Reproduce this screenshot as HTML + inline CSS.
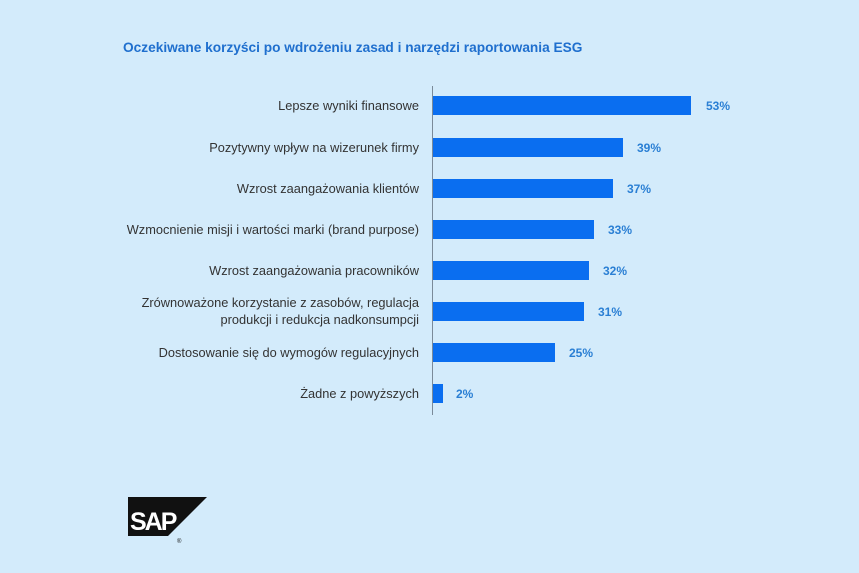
<!DOCTYPE html>
<html><head><meta charset="utf-8"><style>
html,body{margin:0;padding:0}
body{width:859px;height:573px;background:#d3ebfb;overflow:hidden;position:relative}
</style></head><body>
<svg width="859" height="573" viewBox="0 0 859 573" xmlns="http://www.w3.org/2000/svg" style="position:absolute;left:0;top:0">
<rect width="859" height="573" fill="#d3ebfb"/>
<text x="123" y="52" font-family="Liberation Sans, sans-serif" font-size="13.7" font-weight="bold" fill="#1f6fce">Oczekiwane korzyści po wdrożeniu zasad i narzędzi raportowania ESG</text>
<line x1="432.5" y1="86" x2="432.5" y2="415" stroke="#7a8a99" stroke-width="1"/>
<g fill="#0a6ef0">
<rect x="433" y="96" width="258" height="19"/>
<rect x="433" y="138" width="190" height="19"/>
<rect x="433" y="179" width="180" height="19"/>
<rect x="433" y="220" width="161" height="19"/>
<rect x="433" y="261" width="156" height="19"/>
<rect x="433" y="302" width="151" height="19"/>
<rect x="433" y="343" width="122" height="19"/>
<rect x="433" y="384" width="10" height="19"/>
</g>
<g font-family="Liberation Sans, sans-serif" font-size="12.8" fill="#333" text-anchor="end">
<text x="419" y="110">Lepsze wyniki finansowe</text>
<text x="419" y="152">Pozytywny wpływ na wizerunek firmy</text>
<text x="419" y="193">Wzrost zaangażowania klientów</text>
<text x="419" y="234">Wzmocnienie misji i wartości marki (brand purpose)</text>
<text x="419" y="275">Wzrost zaangażowania pracowników</text>
<text x="419" y="307">Zrównoważone korzystanie z zasobów, regulacja</text>
<text x="419" y="324">produkcji i redukcja nadkonsumpcji</text>
<text x="419" y="357">Dostosowanie się do wymogów regulacyjnych</text>
<text x="419" y="398">Żadne z powyższych</text>
</g>
<g font-family="Liberation Sans, sans-serif" font-size="12" font-weight="bold" fill="#2a7fd4">
<text x="706" y="110">53%</text>
<text x="637" y="152">39%</text>
<text x="627" y="193">37%</text>
<text x="608" y="234">33%</text>
<text x="603" y="275">32%</text>
<text x="598" y="316">31%</text>
<text x="569" y="357">25%</text>
<text x="456" y="398">2%</text>
</g>
<polygon points="128,497 207,497 168,536 128,536" fill="#111"/>
<text x="130" y="530" font-family="Liberation Sans, sans-serif" font-size="25" font-weight="bold" fill="#fff" letter-spacing="-2">SAP</text>
<text x="177" y="543" font-family="Liberation Sans, sans-serif" font-size="6" fill="#111">®</text>
</svg>
</body></html>
